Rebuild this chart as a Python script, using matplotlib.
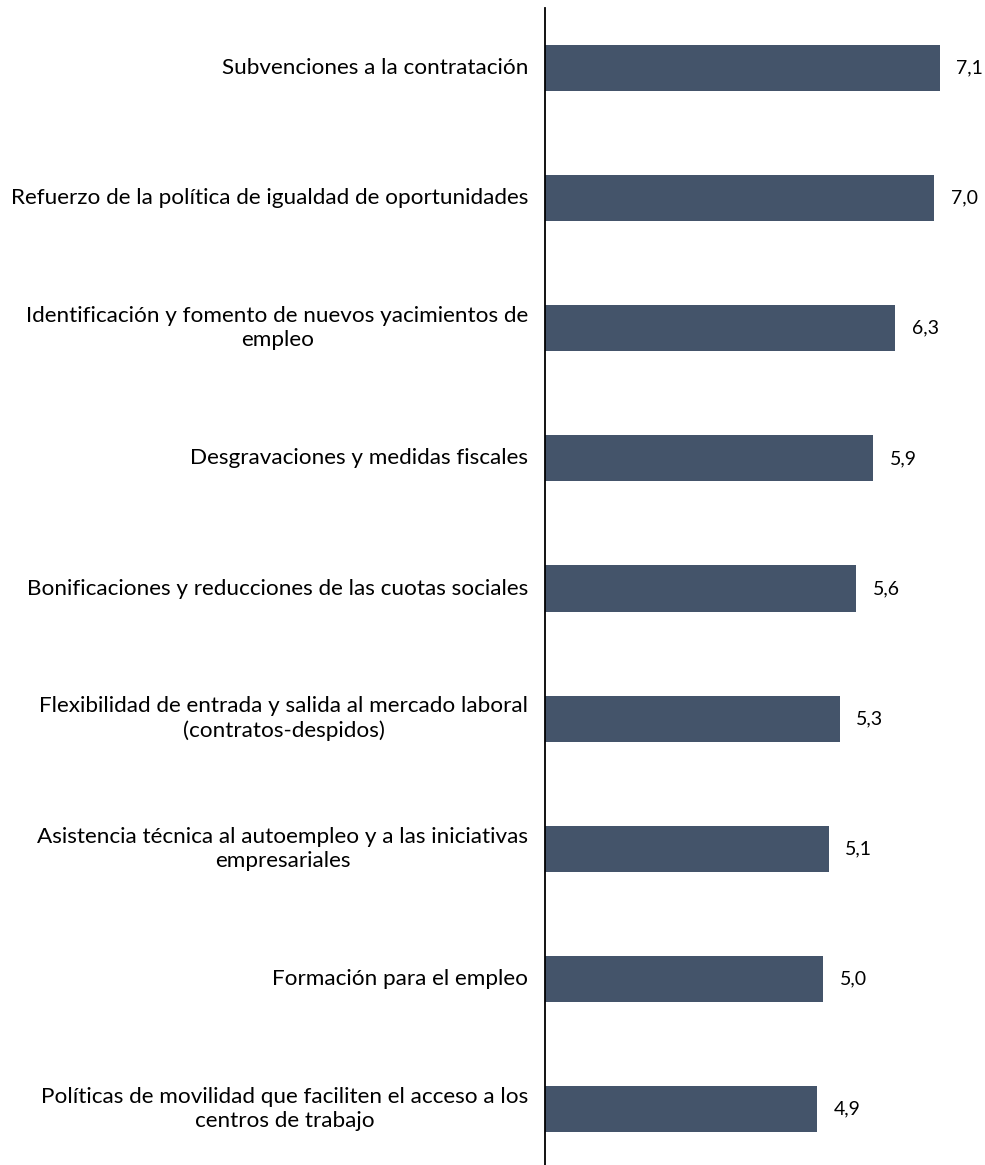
import matplotlib
matplotlib.use("Agg")
import matplotlib.pyplot as plt

# Valoración media de las medidas de fomento del empleo
categorias = [
    "Subvenciones a la contratación",
    "Refuerzo de la política de igualdad de oportunidades",
    "Identificación y fomento de nuevos yacimientos de\nempleo",
    "Desgravaciones y medidas fiscales",
    "Bonificaciones y reducciones de las cuotas sociales",
    "Flexibilidad de entrada y salida al mercado laboral\n(contratos-despidos)",
    "Asistencia técnica al autoempleo y a las iniciativas\nempresariales",
    "Formación para el empleo",
    "Políticas de movilidad que faciliten el acceso a los\ncentros de trabajo",
]
valores = [7.1, 7.0, 6.3, 5.9, 5.6, 5.3, 5.1, 5.0, 4.9]

plt.rcParams['font.family'] = ['Lato', 'DejaVu Sans']

fig = plt.figure(figsize=(9.85, 11.65), dpi=100)
ax = fig.add_axes([545 / 985, 0, 440 / 985, 1157 / 1165])

y = list(range(len(categorias)))
ax.barh(y, valores, height=0.354, color='#44546A')

for yi, v, cat in zip(y, valores, categorias):
    ax.text(v + 0.3, yi, f"{v:.1f}".replace('.', ','), va='center', ha='left',
            fontsize=14, color='black')
    ax.text(-0.3, yi, cat, va='center', ha='right', multialignment='center',
            fontsize=16.2, linespacing=1.25, color='black')

ax.set_xlim(0, 440 / 55.6)
ax.set_ylim(8.43, -0.461)
ax.set_xticks([])
ax.set_yticks([])
for side in ['top', 'right', 'bottom']:
    ax.spines[side].set_visible(False)
ax.spines['left'].set_linewidth(1.3)
ax.spines['left'].set_color('black')

fig.savefig("out.png", dpi=100)
